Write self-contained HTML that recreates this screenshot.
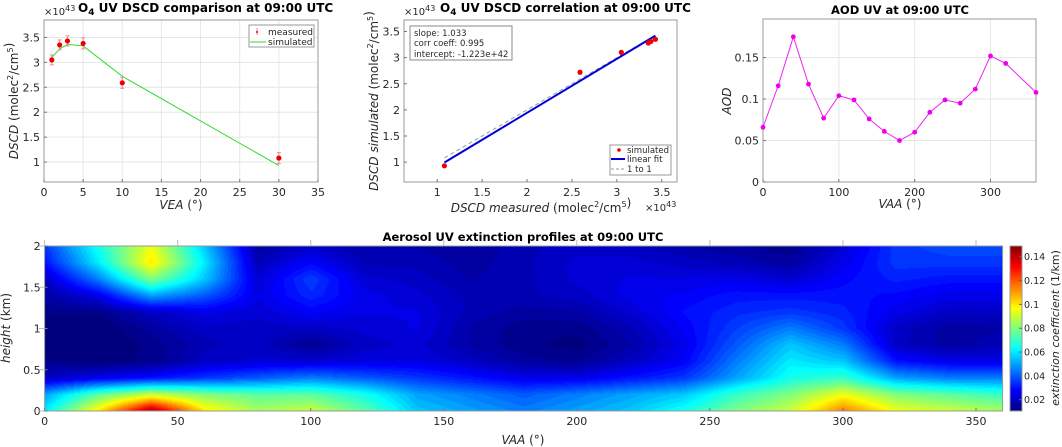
<!DOCTYPE html>
<html><head><meta charset="utf-8">
<style>
html,body{margin:0;padding:0;background:#fff;}
body{width:1062px;height:447px;position:relative;overflow:hidden;font-family:"Liberation Sans","DejaVu Sans",sans-serif;}
svg{position:absolute;left:0;top:0;}
canvas{position:absolute;}
text{font-family:"DejaVu Sans","Liberation Sans",sans-serif;}
</style></head>
<body>
<canvas id="hm" width="958" height="165" style="left:44.6px;top:246px;"></canvas>
<canvas id="cb" width="12" height="165" style="left:1010px;top:246px;"></canvas>
<svg id="s" width="1062" height="447"></svg>
<script>
// ---------- data ----------
const veaX = [1,2,3,5,10,30];
const measuredVals = [3.05,3.35,3.43,3.38,2.59,1.08];
const measuredErr = [0.1,0.1,0.1,0.11,0.11,0.11];
const simulatedVals = [3.10,3.27,3.36,3.33,2.72,0.93];
const corrX = [1.08,2.59,3.05,3.35,3.38,3.43];
const corrY = [0.93,2.72,3.10,3.28,3.31,3.35];
const fitSlope = 1.033;
const fitIntercept = -0.1223;
const aodX = [0,20,40,60,80,100,120,140,160,180,200,220,240,260,280,300,320,360];
const aodVals = [0.066,0.116,0.175,0.118,0.077,0.104,0.099,0.076,0.061,0.050,0.060,0.084,0.099,0.095,0.112,0.152,0.143,0.108];
const hmVAA = [0,20,40,60,80,100,120,140,160,180,200,220,240,260,280,300,320,340,360];
const hmHeights = [0,0.2,0.4,0.6,0.8,1.0,1.2,1.4,1.6,1.8,2.0];
const hmCols = [
[0.06,0.05,0.02,0.012,0.008,0.008,0.012,0.015,0.02,0.03,0.035],
[0.10,0.075,0.025,0.01,0.008,0.008,0.012,0.025,0.045,0.06,0.065],
[0.145,0.09,0.03,0.012,0.012,0.015,0.02,0.05,0.08,0.10,0.095],
[0.10,0.08,0.035,0.02,0.018,0.02,0.025,0.04,0.055,0.06,0.055],
[0.085,0.075,0.04,0.022,0.02,0.02,0.022,0.024,0.022,0.018,0.015],
[0.09,0.075,0.045,0.022,0.013,0.02,0.027,0.033,0.036,0.028,0.02],
[0.075,0.065,0.04,0.024,0.02,0.022,0.024,0.025,0.022,0.018,0.016],
[0.055,0.05,0.035,0.024,0.022,0.024,0.024,0.022,0.02,0.018,0.016],
[0.05,0.045,0.03,0.02,0.016,0.016,0.018,0.018,0.016,0.015,0.014],
[0.045,0.04,0.025,0.015,0.012,0.012,0.015,0.018,0.018,0.018,0.018],
[0.05,0.045,0.025,0.013,0.01,0.012,0.016,0.02,0.022,0.022,0.02],
[0.055,0.05,0.03,0.02,0.016,0.018,0.022,0.025,0.024,0.022,0.02],
[0.065,0.055,0.035,0.027,0.025,0.027,0.029,0.027,0.024,0.02,0.016],
[0.08,0.07,0.05,0.045,0.04,0.036,0.033,0.03,0.025,0.018,0.014],
[0.09,0.08,0.065,0.06,0.055,0.045,0.035,0.03,0.022,0.015,0.012],
[0.115,0.095,0.07,0.055,0.045,0.035,0.032,0.03,0.028,0.025,0.022],
[0.095,0.08,0.05,0.03,0.02,0.02,0.025,0.028,0.032,0.035,0.035],
[0.09,0.075,0.045,0.025,0.015,0.015,0.02,0.025,0.03,0.035,0.038],
[0.085,0.07,0.045,0.025,0.018,0.016,0.02,0.025,0.03,0.035,0.038]];
const cbTicks = [0.02,0.04,0.06,0.08,0.1,0.12,0.14];
const cMin = 0.0105, cMax = 0.149;

const NS='http://www.w3.org/2000/svg';
const S=document.getElementById('s');
function el(tag,attrs,parent){const e=document.createElementNS(NS,tag);for(const k in attrs)e.setAttribute(k,attrs[k]);(parent||S).appendChild(e);return e;}
function txt(x,y,str,attrs){const t=el('text',Object.assign({x:x,y:y,'font-size':11,fill:'#262626'},attrs||{}));t.innerHTML=str;return t;}

function axes(name,L,T,R,B,xmin,xmax,ymin,ymax,xt,yt,xfmt,yfmt,grid){
  const g=el('g',{});
  
  
  const sx=v=>L+(v-xmin)/(xmax-xmin)*(R-L);
  const sy=v=>B-(v-ymin)/(ymax-ymin)*(B-T);
  if(grid){
    xt.forEach(v=>el('line',{x1:sx(v),x2:sx(v),y1:T,y2:B,stroke:'#e6e6e6','stroke-width':1},g));
    yt.forEach(v=>el('line',{x1:L,x2:R,y1:sy(v),y2:sy(v),stroke:'#e6e6e6','stroke-width':1},g));
  }
  el('rect',{x:L,y:T,width:R-L,height:B-T,fill:'none',stroke:'#9a9a9a','stroke-width':1},g);
  xt.forEach(v=>{el('line',{x1:sx(v),x2:sx(v),y1:B,y2:B-3,stroke:'#777'},g);
    const t=txt(sx(v),B+14,xfmt(v),{'text-anchor':'middle'});});
  yt.forEach(v=>{el('line',{x1:L,x2:L+3,y1:sy(v),y2:sy(v),stroke:'#777'},g);
    const t=txt(L-4,sy(v)+4,yfmt(v),{'text-anchor':'end'});});
  return {sx,sy,g};
}
const f=v=>String(v);

// ---- Plot 1 ----
{
const a=axes('dscd-comparison-axes',44,20,318,182,0,35,0.6,3.85,[0,5,10,15,20,25,30,35],[1,1.5,2,2.5,3,3.5],f,f,true);
txt(44,15,'×10<tspan font-size="8" dy="-4">43</tspan>',{'font-size':10});
const t=txt(78,12,'O<tspan font-size="9" dy="3">4</tspan><tspan dy="-3"> UV DSCD comparison at 09:00 UTC</tspan>',{'font-weight':'bold','font-size':12,fill:'#000'});

let p=simulatedVals.map((v,i)=>a.sx(veaX[i])+','+a.sy(v)).join(' ');
const ln=el('polyline',{points:p,fill:'none',stroke:'#33dd33','stroke-width':1});

measuredVals.forEach((v,i)=>{const x=a.sx(veaX[i]);
  el('line',{x1:x,x2:x,y1:a.sy(v+measuredErr[i]),y2:a.sy(v-measuredErr[i]),stroke:'#e88','stroke-width':1});
  el('line',{x1:x-2,x2:x+2,y1:a.sy(v+measuredErr[i]),y2:a.sy(v+measuredErr[i]),stroke:'#e88'});
  el('line',{x1:x-2,x2:x+2,y1:a.sy(v-measuredErr[i]),y2:a.sy(v-measuredErr[i]),stroke:'#e88'});
  const c=el('circle',{cx:x,cy:a.sy(v),r:2.6,fill:'#ee0000'});
  });
const lg=el('g',{});
el('rect',{x:249,y:25,width:65,height:22,fill:'#fff',stroke:'#999'},lg);
el('line',{x1:257,x2:257,y1:28,y2:35,stroke:'#e88'},lg);el('circle',{cx:257,cy:32,r:1,fill:'#e00'},lg);
txt(268,35,'measured',{'font-size':9});
el('line',{x1:250,x2:266,y1:42,y2:42,stroke:'#33dd33'},lg);
txt(268,45,'simulated',{'font-size':9});
const xl=txt(181,209,'<tspan font-style="italic">VEA</tspan> (°)',{'text-anchor':'middle','font-size':12});
const yl=txt(0,0,'<tspan font-style="italic">DSCD</tspan> (molec<tspan font-size="8" dy="-5">2</tspan><tspan dy="5">/cm</tspan><tspan font-size="8" dy="-5">5</tspan>)',{'text-anchor':'middle','font-size':12,transform:'translate(18,101) rotate(-90)'});
}
// ---- Plot 2 ----
{
const a=axes('dscd-correlation-axes',404,20,677,182,0.63,3.67,0.62,3.72,[1,1.5,2,2.5,3,3.5],[1,1.5,2,2.5,3,3.5],f,f,false);
txt(404,15,'×10<tspan font-size="8" dy="-4">43</tspan>',{'font-size':10});
txt(645,211,'×10<tspan font-size="8" dy="-4">43</tspan>',{'font-size':10});
const t=txt(440,12,'O<tspan font-size="9" dy="3">4</tspan><tspan dy="-3"> UV DSCD correlation at 09:00 UTC</tspan>',{'font-weight':'bold','font-size':12,fill:'#000'});

const x0=Math.min(...corrX),x1=Math.max(...corrX);
const one=el('line',{x1:a.sx(x0),y1:a.sy(x0),x2:a.sx(x1),y2:a.sy(x1),stroke:'#999','stroke-dasharray':'4,3','stroke-width':1});

const fl=el('line',{x1:a.sx(x0),y1:a.sy(fitSlope*x0+fitIntercept),x2:a.sx(x1),y2:a.sy(fitSlope*x1+fitIntercept),stroke:'#0000dd','stroke-width':2});

corrX.forEach((v,i)=>{const c=el('circle',{cx:a.sx(v),cy:a.sy(corrY[i]),r:2.6,fill:'#ee0000'});});
const sb=el('g',{});
el('rect',{x:410,y:26,width:102,height:34,fill:'#fff',stroke:'#888'},sb);
txt(414,36,'slope: 1.033',{'font-size':8.5},);txt(414,46,'corr coeff: 0.995',{'font-size':8.5});txt(414,57,'intercept: -1.223e+42',{'font-size':8.5});
const lg=el('g',{});
el('rect',{x:610,y:145,width:61,height:30,fill:'#fff',stroke:'#999'},lg);
el('circle',{cx:619,cy:150,r:1.8,fill:'#e00'},lg);txt(627,153,'simulated',{'font-size':8.5});
el('line',{x1:611,x2:625,y1:159,y2:159,stroke:'#0000dd','stroke-width':2},lg);txt(627,162,'linear fit',{'font-size':8.5});
el('line',{x1:611,x2:625,y1:169,y2:169,stroke:'#999','stroke-dasharray':'3,2'},lg);txt(627,172,'1 to 1',{'font-size':8.5});
const xl=txt(541,212,'<tspan font-style="italic">DSCD measured</tspan> (molec<tspan font-size="8" dy="-5">2</tspan><tspan dy="5">/cm</tspan><tspan font-size="8" dy="-5">5</tspan>)',{'text-anchor':'middle','font-size':12});
const yl=txt(0,0,'<tspan font-style="italic">DSCD simulated</tspan> (molec<tspan font-size="8" dy="-5">2</tspan><tspan dy="5">/cm</tspan><tspan font-size="8" dy="-5">5</tspan>)',{'text-anchor':'middle','font-size':12,transform:'translate(378,101) rotate(-90)'});
}
// ---- Plot 3 ----
{
const a=axes('aod-axes',763,19,1036,182,0,360,0,0.1965,[0,100,200,300],[0,0.05,0.1,0.15],f,f,true);
const t=txt(900,14,'AOD UV at 09:00 UTC',{'text-anchor':'middle','font-weight':'bold','font-size':11.5,fill:'#000'});

const ln=el('polyline',{points:aodVals.map((v,i)=>a.sx(aodX[i])+','+a.sy(v)).join(' '),fill:'none',stroke:'#ee22ee','stroke-width':1});

aodVals.forEach((v,i)=>{const c=el('circle',{cx:a.sx(aodX[i]),cy:a.sy(v),r:2.4,fill:'#ee00ee'});});
txt(900,208,'<tspan font-style="italic">VAA</tspan> (°)',{'text-anchor':'middle','font-size':12});
txt(0,0,'<tspan font-style="italic">AOD</tspan>',{'text-anchor':'middle','font-size':12,transform:'translate(731,101) rotate(-90)'});
}
// ---- Heatmap ----
function jet(v){let t=(v-cMin)/(cMax-cMin);t=Math.max(0,Math.min(1,t));
  const r=Math.max(0,Math.min(1,1.5-Math.abs(4*t-3))),g=Math.max(0,Math.min(1,1.5-Math.abs(4*t-2))),b=Math.max(0,Math.min(1,1.5-Math.abs(4*t-1)));
  return [r*255|0,g*255|0,b*255|0];}
{
const L=44.6,T=246,R=1002.6,B=411;
const cv=document.getElementById('hm'),ctx=cv.getContext('2d');
const W=cv.width,H=cv.height,img=ctx.createImageData(W,H);
for(let py=0;py<H;py++){const h=(1-(py+0.5)/H)*2;
  let j=0;while(j<hmHeights.length-2&&hmHeights[j+1]<h)j++;
  const fy=Math.max(0,Math.min(1,(h-hmHeights[j])/(hmHeights[j+1]-hmHeights[j])));
  for(let px=0;px<W;px++){const x=(px+0.5)/W*360;
    let i=0;while(i<hmVAA.length-2&&hmVAA[i+1]<x)i++;
    const fx=Math.max(0,Math.min(1,(x-hmVAA[i])/(hmVAA[i+1]-hmVAA[i])));
    const v=(hmCols[i][j]*(1-fx)+hmCols[i+1][j]*fx)*(1-fy)+(hmCols[i][j+1]*(1-fx)+hmCols[i+1][j+1]*fx)*fy;
    const q=Math.round(v/0.0025)*0.0025;
    const c=jet(q);const k=(py*W+px)*4;img.data[k]=c[0];img.data[k+1]=c[1];img.data[k+2]=c[2];img.data[k+3]=255;}}
ctx.putImageData(img,0,0);
const cb=document.getElementById('cb'),cc=cb.getContext('2d');
for(let py=0;py<cb.height;py++){const v=cMax-(py+0.5)/cb.height*(cMax-cMin);const c=jet(v);cc.fillStyle='rgb('+c+')';cc.fillRect(0,py,12,1);}
const a=axes('heatmap-axes',L,T,R,B,0,360,0,2,[0,50,100,150,200,250,300,350],[0,0.5,1,1.5,2],f,f,false);
[0,50,100,150,200,250,300,350].forEach(v=>el('line',{x1:a.sx(v),x2:a.sx(v),y1:T-6,y2:T,stroke:'#bbb'}));
[0,0.5,1,1.5,2].forEach(v=>el('line',{x1:L-6,x2:L,y1:a.sy(v),y2:a.sy(v),stroke:'#bbb'}));
const t=txt(523,241,'Aerosol UV extinction profiles at 09:00 UTC',{'text-anchor':'middle','font-weight':'bold','font-size':11.5,fill:'#000'});

txt(523,444,'<tspan font-style="italic">VAA</tspan> (°)',{'text-anchor':'middle','font-size':12});
txt(0,0,'<tspan font-style="italic">height</tspan> (km)',{'text-anchor':'middle','font-size':12,transform:'translate(10,328) rotate(-90)'});
el('rect',{x:1010,y:T,width:12,height:B-T,fill:'none',stroke:'#999'});
cbTicks.forEach(v=>{const y=B-(v-cMin)/(cMax-cMin)*(B-T);el('line',{x1:1019,x2:1022,y1:y,y2:y,stroke:'#666'});
  const l=txt(1024,y+3.5,String(v),{'font-size':9.5});});
txt(0,0,'<tspan font-style="italic">extinction coefficient</tspan> (1/km)',{'text-anchor':'middle','font-size':11,transform:'translate(1059,328) rotate(-90)'});
}
</script>
</body></html>
